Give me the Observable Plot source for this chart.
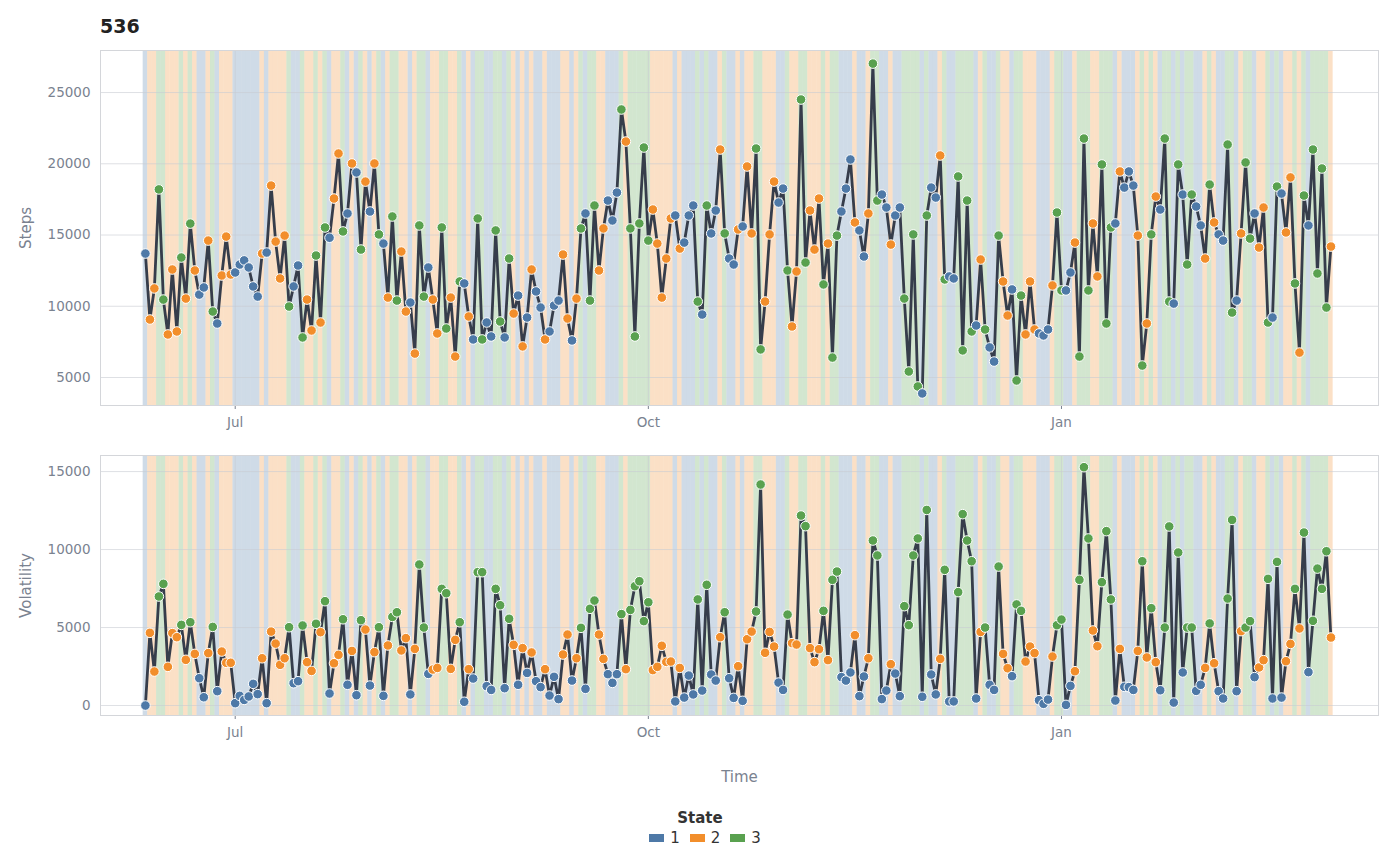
<!DOCTYPE html>
<html>
<head>
<meta charset="utf-8">
<script src="https://cdn.jsdelivr.net/npm/d3@7"></script>
<script src="https://cdn.jsdelivr.net/npm/@observablehq/plot@0.6"></script>
<style>
  body { margin: 0; background: #fff; font-family: "DejaVu Sans", sans-serif; }
  #title { height: 50px; padding-left: 100px; font-weight: bold; font-size: 19px; color: #222; line-height: 52px; }
  #legend { text-align: center; font-size: 15px; color: #333; margin-top: 4px; }
  #legend .hd { font-weight: bold; margin-bottom: 2px; }
  #legend span.sw { display: inline-block; width: 15px; height: 8px; margin: 0 6px 1px 10px; vertical-align: middle; }
  svg [aria-label="y-axis label"] text, svg [aria-label="x-axis label"] text { font-size: 15px; }
</style>
</head>
<body>
<div id="title">536</div>
<div id="top"></div>
<div id="bottom"></div>
<div id="legend"></div>
<script>
// daily series (day 0 = 2023-06-11)
const steps = [
  13700, 9070, 11250, 18200, 10470, 8020, 12580, 8230, 13420, 10540,
  15800, 12510, 10820, 11320, 14610, 9630, 8790, 12160, 14890, 12230,
  12370, 12930, 13220, 12720, 11390, 10680, 13700, 13770, 18470, 14540,
  11950, 14960, 9980, 11390, 12860, 7810, 10470, 8300, 13560, 8860,
  15530, 14810, 17560, 20720, 15250, 16510, 20020, 19390, 13980, 18750,
  16650, 20020, 15040, 14400, 10610, 16300, 10400, 13840, 9630, 10260,
  6680, 15670, 10680, 12720, 10470, 8090,
  15530, 8440, 10610, 6470, 11740, 11600, 9280, 7670, 16160, 7670,
  8860, 7880, 15320, 8930, 7810, 13350, 9490, 10750, 7180, 9210,
  12580, 11040, 9910, 7670, 8230, 10050, 10400, 13630, 9140, 7600,
  10540, 15460, 16510, 10400, 17070, 12510, 15460, 17420, 16020, 17980,
  23810, 21560, 15460, 7880, 15810, 21140, 14610, 16790, 14400, 10610,
  13350, 16160, 16370, 14050, 14470, 16370, 17070, 10330, 9420, 17070,
  15110, 16720, 21000, 15110, 13350, 12930,
  15390, 15600, 19810, 15110, 21070, 6970, 10330, 15040, 18750, 17280,
  18260, 12510, 8580, 12440, 24510, 13070, 16720, 13980, 17560, 11530,
  14400, 6400, 14960, 16650, 18260, 20300, 15880, 15320, 13490, 16510,
  27030, 17420, 17840, 16930, 14330, 16370, 16930, 10540, 5420, 15040,
  4370, 3880, 16370, 18330, 17630, 20580, 11880, 12090, 11950, 19110,
  6900, 17420, 8230, 8650, 13280, 8370, 7110, 6120, 14960, 11740,
  9350, 11180, 4790, 10750, 8020, 11740,
  8370, 8090, 7950, 8370, 11460, 16580, 11110, 11110, 12370, 14470,
  6470, 21770, 11110, 15810, 12090, 19950, 8790, 15530, 15810, 19460,
  18330, 19460, 18470, 14960, 5840, 8790, 15040, 17700, 16790, 21770,
  10330, 10190, 19950, 17840, 12930, 17840, 17000, 15670, 13350, 18540,
  15880, 15040, 14610, 21350, 9560, 10400, 15110, 20090, 14750, 16510,
  14120, 16930, 8860, 9210, 18400, 17910, 15180, 19040, 11600, 6750,
  17770, 15670, 21000, 12300, 19670, 9910, 14190
];
const volatility = [
  0, 4660, 2180, 6990, 7800, 2480, 4640, 4380, 5170, 2930,
  5340, 3310, 1750, 530, 3360, 5040, 920, 3460, 2740, 2740,
  150, 620, 360, 580, 1390, 730, 3030, 150, 4740, 3970,
  2610, 3030, 5020, 1430, 1560, 5130, 2780, 2220, 5240, 4700,
  6690, 770, 2710, 3250, 5530, 1330, 3500, 660, 5470, 4870,
  1280, 3420, 5020, 620, 3850, 5680, 5980, 3530, 4320, 710,
  3630, 9040, 5000, 2030, 2310, 2410,
  7480, 7200, 2350, 4210, 5340, 240, 2330, 1730, 8550, 8550,
  1240, 1000, 7480, 6430, 1110, 5560, 3890, 1330, 3680, 2090,
  3400, 1560, 1180, 2330, 640, 1840, 410, 3270, 4550, 1600,
  3030, 4980, 1070, 6200, 6730, 4550, 2990, 2010, 1450, 2010,
  5860, 2330, 6130, 7650, 7970, 5410, 6620, 2270, 2480, 3830,
  2800, 2820, 260, 2410, 510, 1920, 710, 6800, 960, 7740,
  1990, 1600, 4380, 5980, 1750, 490,
  2520, 300, 4250, 4740, 6030, 14170, 3380, 4720, 3780, 1470,
  1000, 5830, 4000, 3910, 12180, 11500, 3680, 2780, 3610, 6070,
  2910, 8060, 8590, 1820, 1600, 2120, 4510, 600, 1860, 3030,
  10580, 9620, 410, 960, 2650, 2050, 600, 6370, 5150, 9620,
  10710, 560, 12540, 1990, 710, 2990, 8700, 260, 260, 7270,
  12270, 10580, 9250, 450, 4720, 5000, 1330, 1000, 8910, 3310,
  2390, 1880, 6480, 6070, 2820, 3780,
  3360, 340, 110, 380, 3140, 5150, 5510, 40, 1260, 2200,
  8060, 15280, 10710, 4810, 3800, 7910, 11180, 6800, 320, 3630,
  1200, 1180, 1000, 3500, 9250, 3080, 6240, 2780, 980, 5000,
  11480, 190, 9810, 2120, 5000, 5000, 940, 1330, 2410, 5260,
  2710, 920, 450, 6860, 11900, 920, 4770, 5000, 5410, 1820,
  2440, 2910, 8120, 450, 9210, 510, 2840, 3950, 7480, 4940,
  11090, 2140, 5430, 8780, 7480, 9890, 4360
];
const state = [
  1,2,2,3,3,2,2,2,3,2, 3,2,1,1,2,3,1,2,2,2, 1,1,1,1,1,1,2,1,2,2,
  2,2,3,1,1,3,2,2,3,2, 3,1,2,2,3,1,2,1,3,2, 1,2,3,1,2,3,3,2,2,1,
  2,3,3,1,2,2,
  3,3,2,2,3,1,2,1,3,3, 1,1,3,3,1,3,2,1,2,1, 2,1,1,2,1,1,1,2,2,1,
  2,3,1,3,3,2,2,1,1,1, 3,2,3,3,3,3,3,2,2,2, 2,2,1,2,1,1,1,3,1,3,
  1,1,2,3,1,1,
  2,1,2,2,3,3,2,2,2,1, 1,3,2,2,3,3,2,2,2,3, 2,3,3,1,1,1,2,1,1,2,
  3,3,1,1,2,1,1,3,3,3, 3,1,3,1,1,2,3,1,1,3, 3,3,3,1,2,3,1,1,3,2,
  2,1,3,3,2,2,
  2,1,1,1,2,3,3,1,1,2, 3,3,3,2,2,3,3,3,1,2, 1,1,1,2,3,2,3,2,1,3,
  3,1,3,1,3,3,1,1,2,3, 2,1,1,3,3,1,2,3,3,1, 2,2,3,1,3,1,2,2,3,2,
  3,1,3,3,3,3,2
];
const stateKeys = ["1", "2", "3"];
const stateColors = ["#4e79a7", "#f28e2b", "#59a14f"];
const monthTicks = [new Date(2023, 6, 1), new Date(2023, 9, 1), new Date(2024, 0, 1)];
const startDate = new Date(2023, 5, 11);

const DAY = 86400e3;
const rows = steps.map((s, i) => {
  const date = new Date(+startDate + i * DAY);
  return {
    date, d0: new Date(+date - DAY / 2), d1: new Date(+date + DAY / 2),
    steps: s, volatility: volatility[i], state: String(state[i])
  };
});

const xDomain = [new Date(+startDate - 10 * DAY), new Date(+startDate + 274.6 * DAY)];
const color = { domain: stateKeys, range: stateColors };
const axisStyle = { fontSize: "13.5px", color: "#7a8290", fontFamily: "DejaVu Sans, sans-serif" };

function panel(field, yDomain, yTicks, yLabel, opts) {
  return Plot.plot({
    width: 1400,
    height: opts.height,
    marginLeft: 100,
    marginRight: 22,
    marginTop: opts.marginTop,
    marginBottom: opts.marginBottom,
    style: axisStyle,
    color,
    x: { type: "time", domain: xDomain, ticks: monthTicks, tickFormat: d3.timeFormat("%b"),
         tickSize: 4, tickPadding: 8, label: opts.xLabel, labelArrow: "none", labelAnchor: "center", labelOffset: 66 },
    y: { domain: yDomain, ticks: yTicks, tickFormat: d3.format("d"), tickSize: 0, tickPadding: 10,
         label: yLabel, labelAnchor: "center", labelArrow: "none", labelOffset: 80 },
    marks: [
      Plot.rect(rows, { x1: "d0", x2: "d1", fill: "state", fillOpacity: 0.27 }),
      Plot.gridY(yTicks, { stroke: "#c8ccd2", strokeOpacity: 0.6 }),
      Plot.gridX(monthTicks, { stroke: "#c8ccd2", strokeOpacity: 0.6 }),
      Plot.line(rows, { x: "date", y: field, stroke: "#363d4b", strokeWidth: 2.8 }),
      Plot.dot(rows, { x: "date", y: field, fill: "state", stroke: "white", strokeWidth: 1, r: 4.8 }),
      Plot.frame({ stroke: "#d4d6da" })
    ]
  });
}

document.getElementById("top").append(
  panel("steps", [3035, 27950], [5000, 10000, 15000, 20000, 25000], "Steps",
        { height: 400, marginTop: 0, marginBottom: 45, xLabel: null })
);
document.getElementById("bottom").append(
  panel("volatility", [-640, 16030], [0, 5000, 10000, 15000], "Volatility",
        { height: 355, marginTop: 5, marginBottom: 90, xLabel: "Time" })
);

const lg = document.getElementById("legend");
lg.innerHTML = '<div class="hd">State</div>' +
  stateKeys.map((k, i) => `<span class="sw" style="background:${stateColors[i]}"></span>${k}`).join("");
</script>
</body>
</html>
